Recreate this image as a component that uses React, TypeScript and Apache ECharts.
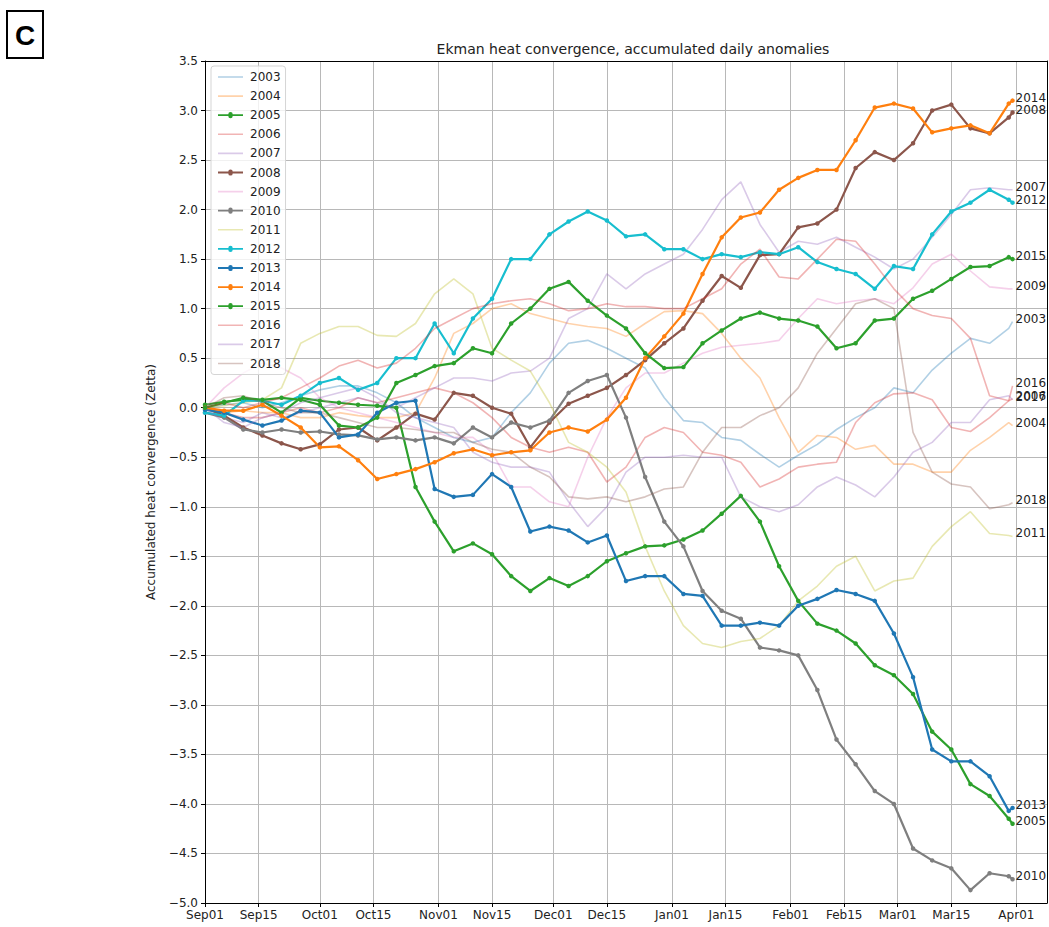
import React, { useEffect, useRef } from 'react';
import * as echarts from 'echarts';

// sample days since Sep01
const days = [0,5,10,15,20,25,30,35,40,45,50,55,60,65,70,75,80,85,90,95,100,105,110,115,120,125,130,135,140,145,150,155,160,165,170,175,180,185,190,195,200,205,210,211];
const axisLength = 221; // days 0..220 on the x axis
const tickDays = [0,14,30,44,61,75,91,105,122,136,153,167,181,195,212];
const tickLabels = ['Sep01','Sep15','Oct01','Oct15','Nov01','Nov15','Dec01','Dec15','Jan01','Jan15','Feb01','Feb15','Mar01','Mar15','Apr01'];

const years = ['2003','2004','2005','2006','2007','2008','2009','2010','2011','2012','2013','2014','2015','2016','2017','2018'];
const highlighted = ['2005','2008','2010','2012','2013','2014','2015'];
const colors = ['#1f77b4','#ff7f0e','#2ca02c','#d62728','#9467bd','#8c564b','#e377c2','#7f7f7f','#bcbd22','#17becf','#1f77b4','#ff7f0e','#2ca02c','#d62728','#9467bd','#8c564b'];

const v2003 = [0.0,0.03,0.05,0.0,0.05,0.12,0.18,0.22,0.22,0.15,0.05,-0.1,-0.2,-0.3,-0.35,-0.3,-0.05,0.15,0.45,0.65,0.68,0.6,0.5,0.4,0.1,-0.13,-0.15,-0.3,-0.33,-0.47,-0.6,-0.48,-0.37,-0.22,-0.1,0.0,0.2,0.15,0.38,0.55,0.7,0.65,0.8,0.87];
const v2004 = [0.0,-0.05,-0.03,-0.05,-0.05,-0.1,-0.1,-0.05,-0.08,-0.1,-0.1,-0.05,0.3,0.75,0.85,1.0,1.05,0.95,0.9,0.85,0.82,0.8,0.72,0.85,0.97,0.98,0.95,0.75,0.5,0.3,-0.1,-0.45,-0.28,-0.3,-0.42,-0.38,-0.57,-0.57,-0.65,-0.65,-0.43,-0.3,-0.15,-0.18];
const v2005 = [0.03,0.06,0.08,0.07,-0.05,0.1,0.07,0.05,0.03,0.02,0.0,-0.8,-1.15,-1.45,-1.37,-1.48,-1.7,-1.85,-1.72,-1.8,-1.7,-1.55,-1.47,-1.4,-1.39,-1.33,-1.24,-1.07,-0.89,-1.15,-1.6,-1.95,-2.18,-2.25,-2.38,-2.6,-2.7,-2.89,-3.27,-3.45,-3.8,-3.92,-4.15,-4.2];
const v2006 = [0.0,-0.05,-0.1,-0.1,-0.05,0.0,-0.05,0.0,0.1,0.05,0.1,0.15,0.2,0.15,0.05,-0.1,-0.3,-0.4,-0.45,-0.4,-0.45,-0.75,-0.6,-0.3,-0.2,-0.25,-0.45,-0.48,-0.55,-0.8,-0.72,-0.6,-0.57,-0.55,-0.15,0.05,0.14,0.15,0.08,-0.2,-0.24,-0.1,0.07,0.09];
const v2007 = [0.0,-0.1,-0.15,-0.05,-0.1,-0.05,0.0,0.05,0.1,0.05,0.0,0.1,0.2,0.3,0.3,0.27,0.35,0.37,0.5,0.9,1.0,1.35,1.2,1.35,1.45,1.55,1.8,2.1,2.28,1.85,1.57,1.68,1.65,1.72,1.62,1.52,1.4,1.5,1.72,1.95,2.2,2.22,2.2,2.2];
const v2008 = [0.0,-0.08,-0.2,-0.28,-0.36,-0.42,-0.37,-0.22,-0.2,-0.33,-0.2,-0.06,-0.12,0.15,0.12,0.0,-0.06,-0.4,-0.15,0.04,0.12,0.2,0.33,0.48,0.65,0.8,1.08,1.33,1.21,1.54,1.55,1.82,1.86,2.0,2.42,2.58,2.5,2.67,3.0,3.06,2.82,2.77,2.93,2.98];
const v2009 = [0.0,0.2,0.35,0.45,0.4,0.3,0.1,0.0,-0.05,-0.1,-0.15,-0.2,-0.25,-0.3,-0.3,-0.45,-0.8,-0.8,-0.95,-1.0,-0.5,-0.1,0.2,0.35,0.35,0.45,0.55,0.61,0.63,0.65,0.68,0.9,1.1,1.05,1.08,1.1,1.05,1.21,1.45,1.55,1.38,1.22,1.2,1.2];
const v2010 = [-0.05,-0.1,-0.22,-0.25,-0.22,-0.25,-0.24,-0.27,-0.28,-0.32,-0.3,-0.33,-0.3,-0.36,-0.2,-0.3,-0.15,-0.2,-0.13,0.15,0.27,0.33,-0.1,-0.7,-1.15,-1.4,-1.85,-2.05,-2.13,-2.42,-2.45,-2.5,-2.85,-3.35,-3.6,-3.87,-4.0,-4.45,-4.57,-4.65,-4.87,-4.7,-4.73,-4.76];
const v2011 = [0.0,0.02,0.05,0.08,0.2,0.65,0.75,0.82,0.82,0.73,0.72,0.85,1.15,1.3,1.15,0.6,0.48,0.37,0.05,-0.35,-0.45,-0.6,-0.85,-1.4,-1.85,-2.2,-2.38,-2.42,-2.36,-2.33,-2.2,-1.95,-1.8,-1.6,-1.5,-1.85,-1.75,-1.72,-1.4,-1.2,-1.05,-1.27,-1.29,-1.3];
const v2012 = [-0.05,-0.08,0.07,0.07,0.03,0.12,0.25,0.3,0.18,0.25,0.5,0.5,0.85,0.55,0.9,1.1,1.5,1.5,1.75,1.88,1.98,1.89,1.73,1.75,1.6,1.6,1.5,1.55,1.52,1.57,1.55,1.62,1.47,1.4,1.35,1.2,1.43,1.4,1.75,1.98,2.07,2.2,2.1,2.07];
const v2013 = [-0.02,-0.05,-0.12,-0.18,-0.13,-0.03,-0.05,-0.3,-0.27,-0.05,0.05,0.07,-0.82,-0.9,-0.88,-0.67,-0.8,-1.25,-1.2,-1.24,-1.36,-1.29,-1.75,-1.7,-1.7,-1.88,-1.9,-2.2,-2.2,-2.17,-2.2,-2.0,-1.93,-1.84,-1.88,-1.95,-2.28,-2.72,-3.45,-3.57,-3.57,-3.72,-4.07,-4.04];
const v2014 = [0.0,-0.03,-0.03,0.03,-0.08,-0.2,-0.4,-0.39,-0.53,-0.72,-0.67,-0.62,-0.55,-0.46,-0.42,-0.48,-0.45,-0.43,-0.25,-0.2,-0.24,-0.12,0.1,0.5,0.72,0.95,1.35,1.72,1.92,1.97,2.2,2.32,2.4,2.4,2.7,3.03,3.07,3.02,2.78,2.82,2.85,2.77,3.07,3.1];
const v2015 = [0.0,0.05,0.1,0.08,0.1,0.08,0.03,-0.18,-0.2,-0.1,0.25,0.33,0.42,0.45,0.6,0.55,0.85,1.0,1.2,1.27,1.08,0.93,0.8,0.55,0.4,0.41,0.65,0.78,0.9,0.96,0.9,0.88,0.82,0.6,0.65,0.88,0.9,1.1,1.18,1.3,1.42,1.43,1.52,1.5];
const v2016 = [0.0,0.05,0.0,0.05,0.1,0.2,0.3,0.42,0.48,0.4,0.45,0.6,0.8,0.9,1.0,1.05,1.08,1.1,1.05,0.98,1.0,1.05,1.02,1.02,1.0,1.0,1.1,1.2,1.45,1.6,1.32,1.3,1.5,1.7,1.68,1.45,1.2,1.0,0.93,0.9,0.7,0.12,0.07,0.22];
const v2017 = [0.0,-0.15,-0.2,-0.1,-0.05,0.05,0.1,0.15,0.2,0.1,-0.05,-0.1,-0.15,-0.2,-0.45,-0.55,-0.6,-0.6,-0.65,-0.95,-1.2,-1.0,-0.65,-0.5,-0.5,-0.48,-0.5,-0.5,-0.9,-1.0,-1.05,-0.98,-0.8,-0.7,-0.78,-0.9,-0.7,-0.45,-0.35,-0.15,-0.15,0.08,0.12,0.08];
const v2018 = [0.0,0.1,0.12,0.05,0.0,-0.05,-0.05,-0.1,-0.15,-0.2,-0.2,-0.22,-0.25,-0.25,-0.35,-0.42,-0.45,-0.6,-0.7,-0.9,-0.92,-0.9,-0.95,-0.9,-0.82,-0.8,-0.45,-0.2,-0.2,-0.08,0.0,0.2,0.55,0.8,1.05,1.1,1.0,-0.25,-0.65,-0.77,-0.8,-1.02,-0.98,-0.96];

const seriesValues = [v2003,v2004,v2005,v2006,v2007,v2008,v2009,v2010,v2011,v2012,v2013,v2014,v2015,v2016,v2017,v2018];

const FONT = 'DejaVu Sans';
// legend handles: a line (faint years) or a line with a dot (highlighted years)
const ICON_LINE = 'path://M0,0L0.01,0M0,5.2L25,5.2L25,6.8L0,6.8ZM0,12L0.01,12';
const ICON_DOT = 'path://M0,0L0.01,0M0,5.1L10.3,5.1A2.2,2.2 0 0 1 14.7,5.1L25,5.1L25,6.9L14.7,6.9A2.2,2.2 0 0 1 10.3,6.9L0,6.9ZM0,12L0.01,12';

export default function App() {
  const ref = useRef<HTMLDivElement>(null);
  useEffect(() => {
    if (!ref.current) return;
    const chart = echarts.init(ref.current, null, { renderer: 'svg' });
    const categories = Array.from({ length: axisLength }, (_, i) => String(i));
    const tickSet = new Set(tickDays);
    const labelOf = (idx: number) => {
      const k = tickDays.indexOf(idx);
      return k >= 0 ? tickLabels[k] : '';
    };
    const series = years.map((y, i) => {
      const hi = highlighted.includes(y);
      return {
        name: y,
        type: 'line',
        data: days.map((d, j) => [d, seriesValues[i][j]]),
        symbol: hi ? 'circle' : 'none',
        symbolSize: 4.5,
        showAllSymbol: true,
        lineStyle: { color: colors[i], width: hi ? 2.2 : 1.6, opacity: hi ? 1 : 0.35 },
        itemStyle: { color: colors[i], opacity: hi ? 1 : 0.35 },
        emphasis: { disabled: true },
        endLabel: {
          show: true,
          formatter: '{a}',
          distance: 3,
          offset: [0, -3],
          color: '#222',
          fontSize: 12,
          fontFamily: FONT,
          opacity: 1,
        },
        z: 2,
      };
    });
    const legendData = years.map((y, i) => {
      const hi = highlighted.includes(y);
      return {
        name: y,
        icon: hi ? ICON_DOT : ICON_LINE,
        itemStyle: { color: colors[i], opacity: hi ? 1 : 0.35, borderWidth: 0 },
      };
    });
    chart.setOption({
      animation: false,
      backgroundColor: '#fff',
      title: {
        text: 'Ekman heat convergence, accumulated daily anomalies',
        left: 628,
        top: 37,
        textAlign: 'center',
        textStyle: { fontSize: 14, fontWeight: 'normal', color: '#222', fontFamily: FONT },
      },
      legend: {
        data: legendData,
        orient: 'vertical',
        left: 211,
        top: 66,
        itemWidth: 25,
        itemHeight: 12,
        itemGap: 7.1,
        padding: [5, 5, 5, 7],
        backgroundColor: 'rgba(255,255,255,0.8)',
        borderColor: '#d5d5d5',
        borderWidth: 1,
        borderRadius: 3,
        selectedMode: false,
        textStyle: { fontSize: 12, color: '#222', fontFamily: FONT, padding: [0, 0, 0, 2] },
      },
      grid: { left: 205, right: 2, top: 61, bottom: 24, containLabel: false },
      xAxis: [
        {
          type: 'category',
          data: categories,
          boundaryGap: false,
          axisLine: { onZero: false, lineStyle: { color: '#000', width: 1 } },
          axisTick: { show: true, length: 4, interval: (idx: number) => tickSet.has(idx), lineStyle: { color: '#000' } },
          axisLabel: {
            interval: (idx: number) => tickSet.has(idx),
            formatter: (_v: string, idx: number) => labelOf(idx),
            color: '#222',
            fontSize: 12,
            fontFamily: FONT,
            margin: 6,
          },
          splitLine: { show: true, interval: (idx: number) => tickSet.has(idx), lineStyle: { color: '#b8b8b8', width: 1 } },
        },
        {
          type: 'category',
          data: categories,
          boundaryGap: false,
          position: 'top',
          axisLine: { onZero: false, lineStyle: { color: '#000', width: 1 } },
          axisTick: { show: false },
          axisLabel: { show: false },
          splitLine: { show: false },
        },
      ],
      yAxis: [
        {
          type: 'value',
          min: -5,
          max: 3.5,
          interval: 0.5,
          name: 'Accumulated heat convergence (Zetta)',
          nameLocation: 'middle',
          nameGap: 48,
          nameTextStyle: { fontSize: 12, color: '#222', fontFamily: FONT },
          axisLine: { show: true, onZero: false, lineStyle: { color: '#000', width: 1 } },
          axisTick: { show: true, length: 4, lineStyle: { color: '#000' } },
          axisLabel: {
            formatter: (v: number) => v.toFixed(1).replace('-', '\u2212'),
            color: '#222',
            fontSize: 12,
            fontFamily: FONT,
            margin: 7,
          },
          splitLine: { show: true, lineStyle: { color: '#b8b8b8', width: 1 } },
        },
        {
          type: 'value',
          min: -5,
          max: 3.5,
          interval: 0.5,
          position: 'right',
          axisLine: { show: true, onZero: false, lineStyle: { color: '#000', width: 1 } },
          axisTick: { show: false },
          axisLabel: { show: false },
          splitLine: { show: false },
        },
      ],
      graphic: [
        {
          type: 'rect',
          shape: { x: 7, y: 11, width: 36, height: 47 },
          style: { fill: '#fff', stroke: '#000', lineWidth: 2 },
        },
        {
          type: 'text',
          x: 25,
          y: 35,
          style: {
            text: 'C',
            fill: '#000',
            font: 'bold 28px "Liberation Sans"',
            align: 'center',
            verticalAlign: 'middle',
          },
        },
      ],
      series,
    });
    return () => chart.dispose();
  }, []);
  return <div ref={ref} style={{ position: 'absolute', left: 0, top: 0, width: 1049, height: 927 }} />;
}
